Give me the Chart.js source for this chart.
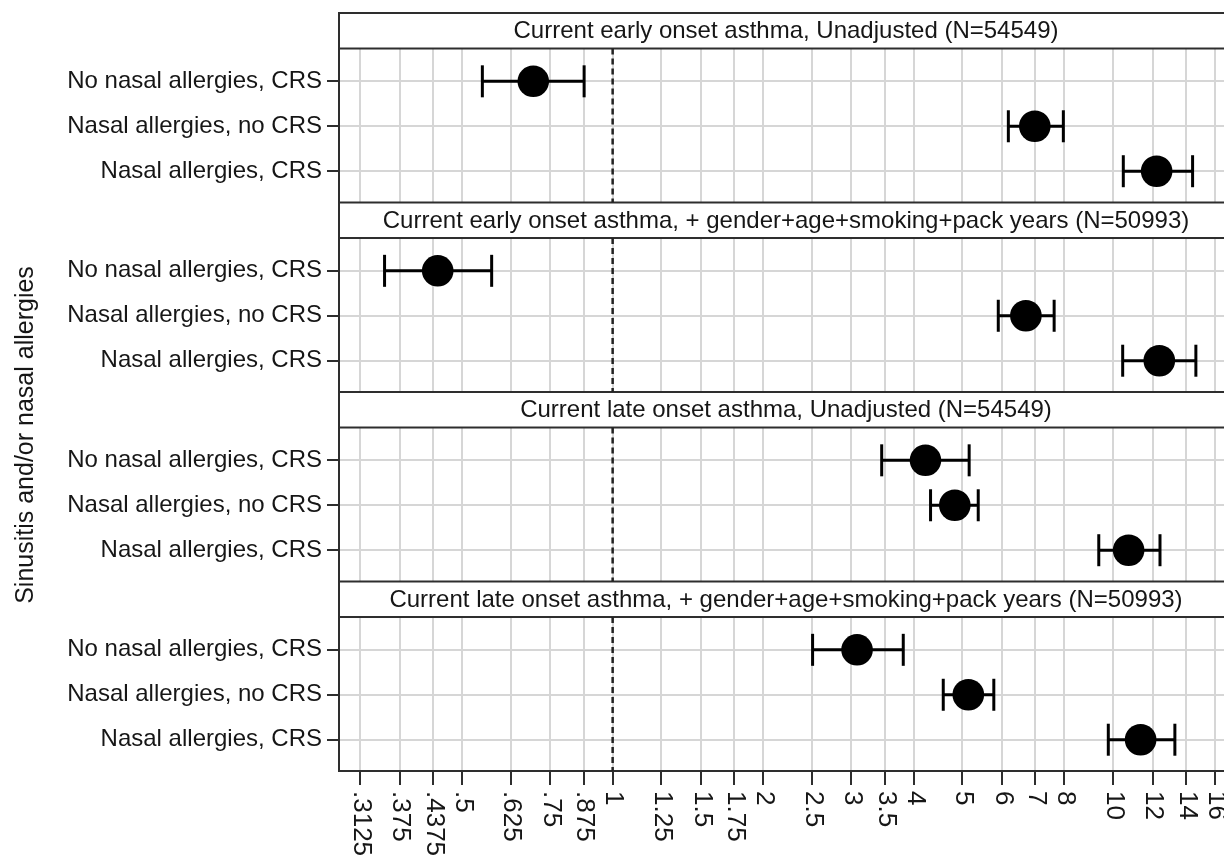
<!DOCTYPE html>
<html>
<head>
<meta charset="utf-8">
<script src="https://cdn.jsdelivr.net/npm/chart.js@4/dist/chart.umd.min.js"></script>
<style>
  html, body { margin: 0; padding: 0; background: #fff; overflow: hidden; }
  #wrap { position: relative; width: 1233px; height: 868px; margin-top: -4px; }
</style>
</head>
<body>
<div id="wrap"><canvas id="forest"></canvas></div>
<script>
// panels (Stata-style by() headers)
const panelTitles = [
  'Current early onset asthma, Unadjusted (N=54549)',
  'Current early onset asthma, + gender+age+smoking+pack years (N=50993)',
  'Current late onset asthma, Unadjusted (N=54549)',
  'Current late onset asthma, + gender+age+smoking+pack years (N=50993)'
];
const rowLabels = ['No nasal allergies, CRS', 'Nasal allergies, no CRS', 'Nasal allergies, CRS'];

// odds ratios and 95% CI, one array per panel, rows in rowLabels order
const or1 = [0.694, 6.98, 12.23];
const lo1 = [0.549, 6.18, 10.49];
const hi1 = [0.877, 7.96, 14.43];

const or2 = [0.447, 6.70, 12.38];
const lo2 = [0.350, 5.90, 10.46];
const hi2 = [0.573, 7.63, 14.65];

const or3 = [4.22, 4.83, 10.75];
const lo3 = [3.45, 4.32, 9.37];
const hi3 = [5.16, 5.38, 12.42];

const or4 = [3.08, 5.14, 11.36];
const lo4 = [2.51, 4.58, 9.79];
const hi4 = [3.81, 5.78, 13.30];

const tickValues = [0.3125, 0.375, 0.4375, 0.5, 0.625, 0.75, 0.875, 1, 1.25, 1.5, 1.75, 2,
                    2.5, 3, 3.5, 4, 5, 6, 7, 8, 10, 12, 14, 16];
const tickLabels = ['.3125', '.375', '.4375', '.5', '.625', '.75', '.875', '1', '1.25', '1.5', '1.75', '2',
                    '2.5', '3', '3.5', '4', '5', '6', '7', '8', '10', '12', '14', '16'];

const yTitle = 'Sinusitis and/or nasal allergies';

const panels = [
  { or: or1, lo: lo1, hi: hi1 },
  { or: or2, lo: lo2, hi: hi2 },
  { or: or3, lo: lo3, hi: hi3 },
  { or: or4, lo: lo4, hi: hi4 }
];

// vertical layout in "row" units
const BLOCK = 4.216;     // header + plot of one panel
const HEAD = 0.79;       // header strip height
const FIRST = 1.52;      // first row from top of block

const FONT = "'Liberation Sans', Arial, Helvetica, sans-serif";
const INK = '#161616';
const GRID = '#d6d6d6';
const AXIS = '#2e2e2e';

const rowPos = [];
const rowText = [];
const pointData = [];
const ciData = [];
const refData = [];
panels.forEach((p, i) => {
  const top = i * BLOCK;
  refData.push({ x: 1, y: top + HEAD }, { x: 1, y: top + BLOCK }, { x: 1, y: null });
  rowLabels.forEach((lab, k) => {
    const y = top + FIRST + k;
    rowPos.push(y);
    rowText.push(lab);
    pointData.push({ x: p.or[k], y: y });
    ciData.push({ x: p.lo[k], y: y }, { x: p.hi[k], y: y }, { x: p.or[k], y: null });
  });
});

const panelPlugin = {
  id: 'panelHeaders',
  beforeDatasetsDraw(chart) {
    const { ctx, chartArea, scales } = chart;
    const y = scales.y;
    ctx.save();
    panels.forEach((p, i) => {
      const t = y.getPixelForValue(i * BLOCK);
      const b = y.getPixelForValue(i * BLOCK + HEAD);
      ctx.fillStyle = '#fff';
      ctx.fillRect(chartArea.left, t, chartArea.right - chartArea.left, b - t);
      ctx.strokeStyle = AXIS;
      ctx.lineWidth = 2;
      ctx.strokeRect(chartArea.left, t, chartArea.right - chartArea.left, b - t);
      ctx.fillStyle = INK;
      ctx.font = '24px ' + FONT;
      ctx.textAlign = 'center';
      ctx.textBaseline = 'middle';
      ctx.fillText(panelTitles[i], (chartArea.left + chartArea.right) / 2, (t + b) / 2 + 1);
    });
    ctx.restore();
  },
  afterDraw(chart) {
    const { ctx, scales, chartArea } = chart;
    const x = scales.x;
    ctx.save();
    ctx.fillStyle = INK;
    ctx.font = '26px ' + FONT;
    ctx.textAlign = 'left';
    ctx.textBaseline = 'middle';
    tickValues.forEach((v, i) => {
      ctx.save();
      ctx.translate(x.getPixelForValue(v) + 1, chartArea.bottom + 20);
      ctx.rotate(Math.PI / 2);
      ctx.fillText(tickLabels[i], 0, 0);
      ctx.restore();
    });
    // y axis title
    ctx.save();
    ctx.translate(33, 439);
    ctx.rotate(-Math.PI / 2);
    ctx.font = '25px ' + FONT;
    ctx.textAlign = 'center';
    ctx.textBaseline = 'alphabetic';
    ctx.fillText(yTitle, 0, 0);
    ctx.restore();
    ctx.restore();
  }
};

new Chart(document.getElementById('forest'), {
  type: 'scatter',
  data: {
    datasets: [
      {
        type: 'line',
        data: refData,
        borderColor: '#222',
        borderWidth: 2.5,
        borderDash: [6, 4],
        pointRadius: 0,
        spanGaps: false
      },
      {
        type: 'line',
        data: ciData,
        borderColor: '#000',
        borderWidth: 3,
        pointStyle: 'line',
        pointRotation: 90,
        pointRadius: 16,
        pointBorderWidth: 3,
        pointBorderColor: '#000',
        spanGaps: false
      },
      {
        data: pointData,
        backgroundColor: '#000',
        borderColor: '#000',
        borderWidth: 0,
        pointRadius: 15.8
      }
    ]
  },
  options: {
    responsive: true,
    maintainAspectRatio: false,
    animation: false,
    events: [],
    layout: { autoPadding: false, padding: { top: 12, right: 0, bottom: 0, left: 0 } },
    plugins: {
      legend: { display: false },
      tooltip: { enabled: false }
    },
    scales: {
      x: {
        type: 'logarithmic',
        min: 0.2838,
        max: 17.38,
        afterBuildTicks: (s) => { s.ticks = tickValues.map(v => ({ value: v })); },
        afterFit: (s) => { s.height = 93; },
        grid: { color: GRID, lineWidth: 2, tickColor: AXIS, tickLength: 14, drawTicks: true },
        border: { color: AXIS, width: 2 },
        ticks: { display: false }
      },
      y: {
        type: 'linear',
        reverse: true,
        min: 0,
        max: 4 * BLOCK,
        afterBuildTicks: (s) => { s.ticks = rowPos.map(v => ({ value: v })); },
        afterFit: (s) => { s.width = 339; },
        grid: { color: GRID, lineWidth: 2, tickColor: AXIS, tickLength: 12 },
        border: { color: AXIS, width: 2 },
        ticks: {
          color: INK,
          font: { family: FONT, size: 24, lineHeight: 1 },
          padding: 5,
          callback: (v, i) => rowText[i]
        }
      }
    }
  },
  plugins: [panelPlugin]
});
</script>
</body>
</html>
